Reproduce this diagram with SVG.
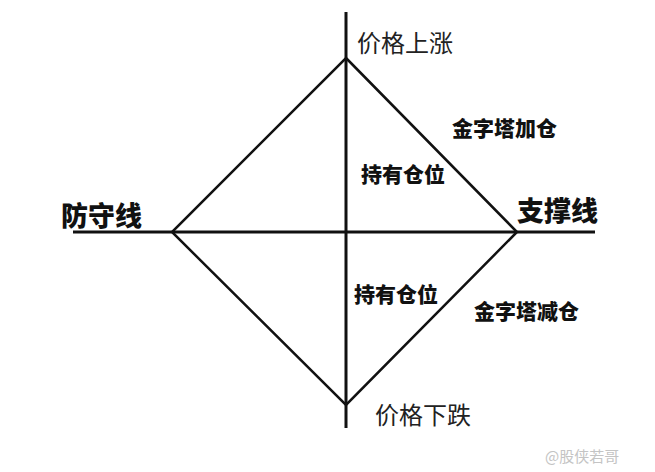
<svg xmlns="http://www.w3.org/2000/svg" width="655" height="472" viewBox="0 0 655 472">
<style>
.axis{stroke:#111;stroke-width:3;fill:none;stroke-linecap:butt}
.edge{stroke:#111;stroke-width:2.5;fill:none;stroke-linejoin:miter}
.lbl{font-family:"Noto Sans CJK SC","Noto Sans",sans-serif;fill:#222;font-size:24px}
.bold{font-family:"Noto Sans CJK SC","Noto Sans",sans-serif;fill:#111;font-weight:900}
.wm{font-family:"Noto Sans CJK SC","Noto Sans",sans-serif;fill:#c4c4c4;font-size:15px}
</style>
<rect width="655" height="472" fill="#ffffff"/>
<g id="connectors">
<line class="axis" x1="346" y1="12" x2="346" y2="428"/>
<line class="axis" x1="73" y1="232" x2="595" y2="232"/>
<polygon class="edge" points="346,58 517,232 346,405 172,232"/>
</g>
<g id="price-up"><text class="lbl" x="357" y="52">价格上涨</text></g>
<g id="price-down"><text class="lbl" x="375" y="424">价格下跌</text></g>
<g id="defense"><text class="bold" x="61" y="226" font-size="27">防守线</text></g>
<g id="support"><text class="bold" x="517" y="221" font-size="27">支撑线</text></g>
<g id="hold-top"><text class="bold" x="361" y="182" font-size="21">持有仓位</text></g>
<g id="hold-bottom"><text class="bold" x="354" y="302" font-size="21">持有仓位</text></g>
<g id="pyramid-add"><text class="bold" x="452" y="136" font-size="21">金字塔加仓</text></g>
<g id="pyramid-reduce"><text class="bold" x="474" y="319" font-size="21">金字塔减仓</text></g>
<g id="watermark"><text class="wm" x="545" y="462">@股侠若哥</text></g>
</svg>
